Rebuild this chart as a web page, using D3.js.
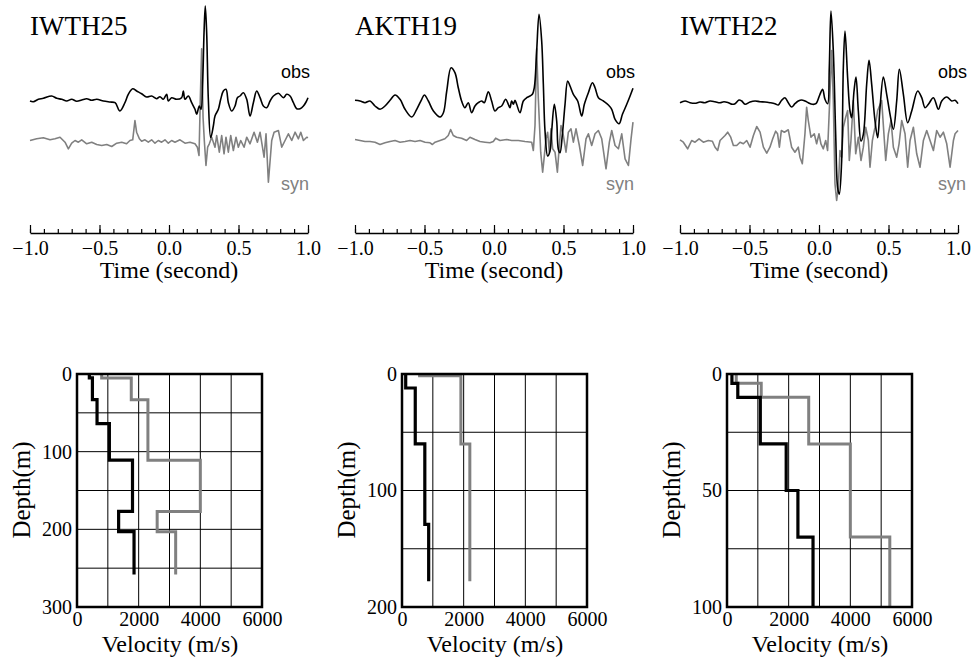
<!DOCTYPE html>
<html>
<head>
<meta charset="utf-8">
<script src="https://cdn.jsdelivr.net/npm/d3@7"></script>
<style>
  body { margin: 0; background: #fff; }
  svg { display: block; background: #fff; }
</style>
</head>
<body>
<svg id="chart"></svg>
<script>
const width = 972;
const height = 658;

/* ---------------------------
Data
--------------------------- */

const stations = ["IWTH25", "AKTH19", "IWTH22"];
const timeMajorTicks = [-1.0, -0.5, 0.0, 0.5, 1.0];
const timeMinorTicks = d3.range(-10, 11).map(i => i / 10);

// waveforms: [time (s), normalized amplitude]
const obsIWTH25 = [
  [-1.000, 0], [-0.976, -0.007], [-0.940, 0.017], [-0.904, 0.027], [-0.844, 0.05],
  [-0.808, 0.027], [-0.772, 0.017], [-0.736, 0], [-0.700, 0.017], [-0.664, -0.003],
  [-0.628, 0.01], [-0.592, 0.023], [-0.556, 0.007], [-0.520, 0.017], [-0.472, 0],
  [-0.424, -0.01], [-0.388, -0.017], [-0.353, -0.1], [-0.317, -0.017], [-0.293, 0.067],
  [-0.261, 0.123], [-0.233, 0.1], [-0.197, 0.073], [-0.161, 0.04], [-0.125, 0.05],
  [-0.089, 0.023], [-0.065, 0.043], [-0.041, 0.017], [-0.017, 0.067], [-0.005, 0],
  [0.019, 0.033], [0.055, 0.017], [0.091, 0.033], [0.103, 0.1], [0.115, 0.017],
  [0.139, 0.05], [0.163, -0.017], [0.187, -0.083], [0.199, -0.133], [0.218, -0.05],
  [0.230, -0.083], [0.242, 0.183], [0.252, 0.683], [0.261, 0.95], [0.271, 0.683],
  [0.283, 0.017], [0.300, -0.367], [0.319, -0.25], [0.331, -0.15], [0.355, -0.083],
  [0.372, 0.017], [0.391, 0.1], [0.410, 0.117], [0.427, -0.017], [0.451, -0.1],
  [0.475, -0.05], [0.492, 0.033], [0.511, 0.05], [0.535, 0.083], [0.559, 0.017],
  [0.583, -0.15], [0.607, -0.017], [0.631, 0.1], [0.655, 0.033], [0.679, -0.05],
  [0.703, -0.067], [0.727, 0], [0.751, 0.05], [0.787, 0.077], [0.823, 0.033],
  [0.847, 0.067], [0.871, 0.05], [0.895, -0.017], [0.919, -0.077], [0.943, -0.077],
  [0.967, -0.05], [0.986, -0.01], [1.000, 0.033]
];

const synIWTH25 = [
  [-1.000, 0], [-0.952, 0.017], [-0.904, 0.027], [-0.856, 0.007], [-0.820, 0.017],
  [-0.784, 0.033], [-0.748, -0.017], [-0.724, -0.083], [-0.700, -0.027], [-0.676, 0],
  [-0.652, -0.017], [-0.628, 0.007], [-0.592, -0.033], [-0.556, -0.017], [-0.520, -0.04],
  [-0.484, -0.05], [-0.448, -0.04], [-0.412, -0.06], [-0.376, -0.027], [-0.340, -0.017],
  [-0.305, -0.033], [-0.281, 0], [-0.261, 0.007], [-0.245, 0.2], [-0.233, 0.083],
  [-0.213, 0.017], [-0.197, -0.007], [-0.173, 0.007], [-0.149, -0.017], [-0.125, 0.007],
  [-0.101, -0.027], [-0.077, 0], [-0.053, -0.017], [-0.029, 0.007], [-0.005, -0.027],
  [0.019, 0], [0.043, -0.017], [0.079, 0.007], [0.115, -0.027], [0.151, -0.017],
  [0.187, -0.033], [0.204, -0.067], [0.216, -0.15], [0.225, 0.4], [0.235, 0.917],
  [0.245, 0.233], [0.254, 0], [0.266, -0.25], [0.278, -0.067], [0.290, -0.033],
  [0.307, 0.033], [0.331, -0.067], [0.343, 0.05], [0.362, -0.117], [0.379, 0.05],
  [0.396, -0.133], [0.410, 0.033], [0.427, -0.117], [0.444, 0.05], [0.463, -0.1],
  [0.482, 0.033], [0.499, -0.067], [0.516, 0], [0.540, -0.067], [0.559, 0.033],
  [0.583, -0.033], [0.612, 0.083], [0.636, -0.017], [0.655, 0.083], [0.684, -0.167],
  [0.698, 0.067], [0.715, -0.417], [0.739, 0], [0.756, 0.083], [0.787, 0.1],
  [0.811, -0.067], [0.835, 0], [0.859, 0.067], [0.883, 0], [0.907, 0.083],
  [0.931, 0.017], [0.948, 0.083], [0.967, 0], [0.991, 0.033], [1.000, 0.027]
];

const obsAKTH19 = [
  [-1.000, 0.007], [-0.964, 0], [-0.928, -0.017], [-0.892, 0], [-0.856, -0.05],
  [-0.820, -0.083], [-0.784, -0.05], [-0.748, 0.007], [-0.712, 0.06], [-0.676, 0.017],
  [-0.640, -0.083], [-0.592, -0.16], [-0.556, -0.083], [-0.520, 0.017], [-0.501, 0.06],
  [-0.472, 0], [-0.436, -0.1], [-0.388, -0.16], [-0.364, -0.117], [-0.340, 0.1],
  [-0.309, 0.333], [-0.281, 0.283], [-0.257, 0.133], [-0.233, 0], [-0.209, -0.067],
  [-0.185, -0.017], [-0.161, -0.117], [-0.137, -0.05], [-0.113, -0.017], [-0.089, 0],
  [-0.070, -0.017], [-0.041, 0.093], [-0.017, 0], [0.007, -0.1], [0.031, -0.067],
  [0.055, -0.05], [0.084, 0.017], [0.103, -0.033], [0.115, -0.067], [0.127, 0],
  [0.139, -0.033], [0.151, 0.007], [0.163, -0.033], [0.187, -0.117], [0.211, 0],
  [0.235, 0.033], [0.259, 0.05], [0.276, 0.067], [0.290, 0.133], [0.307, 0.5],
  [0.324, 0.867], [0.343, 0.6], [0.355, 0.167], [0.367, -0.3], [0.386, -0.55],
  [0.403, -0.5], [0.415, -0.3], [0.434, -0.033], [0.451, -0.2], [0.463, -0.483],
  [0.475, -0.517], [0.492, -0.333], [0.511, -0.033], [0.530, 0.2], [0.547, 0.15],
  [0.571, 0.067], [0.602, 0], [0.631, -0.15], [0.650, -0.033], [0.679, 0.083],
  [0.708, 0.183], [0.727, 0.133], [0.751, 0.033], [0.787, 0], [0.823, -0.04],
  [0.847, -0.083], [0.871, -0.183], [0.900, -0.227], [0.924, -0.133], [0.955, -0.033],
  [0.979, 0.05], [1.000, 0.127]
];

const synAKTH19 = [
  [-1.000, 0.01], [-0.964, 0], [-0.928, -0.01], [-0.892, -0.01], [-0.856, -0.017],
  [-0.820, -0.04], [-0.784, -0.023], [-0.748, -0.01], [-0.712, 0], [-0.676, -0.017],
  [-0.640, -0.01], [-0.604, 0], [-0.568, -0.01], [-0.532, 0], [-0.496, -0.017],
  [-0.460, -0.023], [-0.443, -0.04], [-0.424, -0.017], [-0.388, 0], [-0.353, 0.017],
  [-0.329, 0.05], [-0.312, 0.11], [-0.293, 0.05], [-0.269, 0.033], [-0.233, 0.023],
  [-0.197, 0], [-0.173, 0.033], [-0.137, 0.01], [-0.101, -0.01], [-0.065, -0.017],
  [-0.029, -0.023], [-0.005, -0.01], [0.012, 0.023], [0.043, 0], [0.091, 0.01],
  [0.127, 0], [0.175, 0], [0.223, -0.01], [0.271, -0.017], [0.283, -0.1],
  [0.295, 0.15], [0.307, 0.917], [0.319, 0.417], [0.336, -0.117], [0.350, -0.317],
  [0.360, -0.183], [0.374, 0.017], [0.386, 0.083], [0.398, -0.117], [0.410, 0.117],
  [0.422, -0.083], [0.439, -0.117], [0.456, -0.317], [0.470, -0.05], [0.482, 0.15],
  [0.499, 0.05], [0.518, -0.117], [0.535, 0.083], [0.554, 0.117], [0.571, -0.017],
  [0.590, 0.117], [0.614, -0.05], [0.638, -0.25], [0.662, 0.017], [0.679, 0.067],
  [0.703, -0.05], [0.727, 0.067], [0.751, 0.1], [0.775, 0.017], [0.806, -0.283],
  [0.830, -0.017], [0.847, 0.1], [0.871, -0.05], [0.895, -0.083], [0.919, 0.067],
  [0.943, -0.183], [0.967, -0.25], [0.986, 0.017], [1.000, 0.183]
];

const obsIWTH22 = [
  [-1.000, -0.017], [-0.964, 0], [-0.928, -0.017], [-0.892, -0.023], [-0.856, -0.01],
  [-0.820, -0.017], [-0.784, 0], [-0.748, -0.007], [-0.712, -0.017], [-0.684, -0.007],
  [-0.652, -0.017], [-0.624, -0.033], [-0.604, -0.027], [-0.576, 0.01], [-0.556, 0],
  [-0.532, -0.033], [-0.496, -0.01], [-0.460, 0], [-0.424, -0.007], [-0.388, -0.01],
  [-0.353, -0.017], [-0.317, -0.027], [-0.293, -0.04], [-0.269, 0.007], [-0.245, 0.033],
  [-0.221, -0.017], [-0.197, -0.06], [-0.173, -0.027], [-0.149, 0], [-0.125, 0.01],
  [-0.101, 0], [-0.077, -0.017], [-0.048, -0.033], [-0.022, -0.027], [0.007, 0.067],
  [0.026, 0.117], [0.043, 0.017], [0.062, -0.027], [0.074, 0.333], [0.086, 0.9],
  [0.103, 0.5], [0.120, -0.333], [0.134, -0.867], [0.146, -0.933], [0.163, -0.6],
  [0.175, 0.333], [0.187, 0.7], [0.206, 0.233], [0.223, -0.1], [0.235, -0.167],
  [0.252, 0.1], [0.266, 0.24], [0.283, -0.1], [0.302, -0.4], [0.319, -0.333],
  [0.343, 0.167], [0.360, 0.407], [0.379, 0.167], [0.403, -0.2], [0.422, -0.367],
  [0.439, -0.067], [0.463, 0.24], [0.487, 0.067], [0.511, -0.133], [0.535, -0.283],
  [0.559, 0], [0.578, 0.317], [0.607, 0.067], [0.638, -0.217], [0.667, -0.1],
  [0.710, 0.1], [0.739, 0.033], [0.763, -0.067], [0.787, -0.033], [0.823, 0.033],
  [0.859, -0.083], [0.883, 0], [0.919, 0.04], [0.955, 0], [0.979, 0.007], [1.000, -0.027]
];

const synIWTH22 = [
  [-1.000, 0.007], [-0.976, -0.017], [-0.945, -0.083], [-0.916, 0], [-0.892, -0.017],
  [-0.863, 0.017], [-0.832, -0.017], [-0.796, 0], [-0.767, -0.007], [-0.748, -0.067],
  [-0.729, -0.1], [-0.712, 0], [-0.676, 0.05], [-0.657, 0.083], [-0.635, 0.033],
  [-0.616, -0.05], [-0.592, -0.05], [-0.568, -0.017], [-0.544, -0.033], [-0.520, 0],
  [-0.496, -0.067], [-0.472, 0.05], [-0.448, 0.14], [-0.424, 0.083], [-0.400, -0.067],
  [-0.376, -0.127], [-0.353, -0.067], [-0.333, 0.017], [-0.312, 0.093], [-0.298, 0.067],
  [-0.285, -0.067], [-0.271, 0.1], [-0.249, 0.083], [-0.221, 0.107], [-0.197, -0.067],
  [-0.173, -0.117], [-0.149, -0.067], [-0.137, -0.167], [-0.120, -0.233], [-0.101, 0.067],
  [-0.089, 0.333], [-0.077, 0.2], [-0.058, 0.033], [-0.034, 0.067], [-0.017, -0.033],
  [0.000, 0.067], [0.014, -0.033], [0.031, -0.083], [0.048, 0], [0.062, -0.1],
  [0.077, 0.4], [0.091, 0.9], [0.103, 0.4], [0.115, -0.433], [0.127, -0.6],
  [0.139, -0.467], [0.151, -0.1], [0.163, -0.167], [0.175, 0.133], [0.192, 0.233],
  [0.206, 0.3], [0.218, -0.2], [0.230, 0], [0.247, 0.4], [0.264, -0.133],
  [0.283, 0.033], [0.302, -0.2], [0.319, -0.067], [0.336, 0.133], [0.355, 0],
  [0.367, -0.267], [0.384, 0], [0.403, 0.133], [0.422, 0.3], [0.451, 0.4],
  [0.480, -0.2], [0.499, 0.067], [0.518, 0.2], [0.535, -0.067], [0.559, -0.167],
  [0.576, -0.033], [0.595, 0.2], [0.619, 0.067], [0.638, -0.267], [0.655, 0],
  [0.679, 0.133], [0.703, -0.133], [0.727, -0.267], [0.751, 0], [0.775, 0.1],
  [0.799, 0], [0.823, -0.1], [0.847, 0.1], [0.871, 0.033], [0.895, 0.083],
  [0.919, -0.033], [0.943, -0.267], [0.967, 0], [0.979, 0.067], [1.000, 0.1]
];

const obsTraces = [obsIWTH25, obsAKTH19, obsIWTH22];
const synTraces = [synIWTH25, synAKTH19, synIWTH22];

// velocity profiles: layer boundaries (m) and velocities (m/s)
const depthIWTH25 = [0, 5, 33, 64, 111, 177, 203, 258];
const vsIWTH25 = [400, 500, 650, 1050, 1800, 1350, 1850];
const vpIWTH25 = [800, 1760, 2300, 2300, 4000, 2600, 3200];

const depthAKTH19 = [0, 1.5, 12, 60, 129, 178];
const vsAKTH19 = [120, 120, 430, 740, 865];
const vpAKTH19 = [570, 1910, 1910, 2200, 2200];

const depthIWTH22 = [0, 4, 10, 30, 50, 70, 100];
const vsIWTH22 = [160, 350, 1080, 1920, 2300, 2790];
const vpIWTH22 = [300, 1110, 2650, 4000, 4000, 5280];

const profileDepths = [depthIWTH25, depthAKTH19, depthIWTH22];
const profileVs = [vsIWTH25, vsAKTH19, vsIWTH22];
const profileVp = [vpIWTH25, vpAKTH19, vpIWTH22];

const depthMax = [300, 200, 100];
const depthTicks = [[0, 100, 200, 300], [0, 100, 200], [0, 50, 100]];
const depthGridStep = [50, 50, 25];
const velocityTicks = [0, 2000, 4000, 6000];
const velocityGrid = [1000, 2000, 3000, 4000, 5000];

/* ---------------------------
Setup
--------------------------- */

const serif = "'Liberation Serif', 'Times New Roman', serif";
const sans = "'Liberation Sans', Arial, sans-serif";
const gray = "#808080";

const svg = d3.select("#chart")
  .attr("width", width)
  .attr("height", height);

const panelX = [0, 325, 650];
const labelShift = [0, 0, 7];

/* ---------------------------
Waveform panels
--------------------------- */

stations.forEach((name, i) => {
  const px = panelX[i];
  const g = svg.append("g");

  const x = d3.scaleLinear().domain([-1, 1]).range([px + 30, px + 308]);
  const yObs = d3.scaleLinear().domain([-1, 1]).range([201, 1]);
  const ySyn = d3.scaleLinear().domain([-1, 1]).range([240.5, 40.5]);

  g.append("path")
    .datum(synTraces[i])
    .attr("fill", "none")
    .attr("stroke", gray)
    .attr("stroke-width", 1.6)
    .attr("stroke-linejoin", "round")
    .attr("d", d3.line().x(d => x(d[0])).y(d => ySyn(d[1])));

  g.append("path")
    .datum(obsTraces[i])
    .attr("fill", "none")
    .attr("stroke", "#000")
    .attr("stroke-width", 1.6)
    .attr("stroke-linejoin", "round")
    .attr("d", d3.line().curve(d3.curveCatmullRom.alpha(0.5)).x(d => x(d[0])).y(d => yObs(d[1])));

  g.append("text")
    .attr("x", px + 30)
    .attr("y", 35)
    .attr("font-family", serif)
    .attr("font-size", 27)
    .text(name);

  g.append("text")
    .attr("x", px + 310 + labelShift[i])
    .attr("y", 78)
    .attr("text-anchor", "end")
    .attr("font-family", sans)
    .attr("font-size", 18)
    .text("obs");

  g.append("text")
    .attr("x", px + 309 + labelShift[i])
    .attr("y", 190)
    .attr("text-anchor", "end")
    .attr("font-family", sans)
    .attr("font-size", 18)
    .attr("fill", gray)
    .text("syn");

  // minor ticks
  const minor = g.append("g")
    .attr("transform", "translate(0,233)")
    .call(d3.axisBottom(x).tickValues(timeMinorTicks).tickSize(-4).tickSizeOuter(0).tickFormat(""));
  minor.select(".domain").attr("stroke-width", 1.5);
  minor.selectAll(".tick line").attr("stroke-width", 1.2);

  // major ticks
  const major = g.append("g")
    .attr("transform", "translate(0,233)")
    .call(d3.axisBottom(x).tickValues(timeMajorTicks).tickSize(-8).tickSizeOuter(0)
      .tickPadding(8).tickFormat(d3.format(".1f")));
  major.select(".domain").remove();
  major.selectAll(".tick line").attr("stroke-width", 1.2);
  major.selectAll("text")
    .attr("font-family", serif)
    .attr("font-size", 20)
    .attr("fill", "#000");

  g.append("text")
    .attr("x", px + 169)
    .attr("y", 278)
    .attr("text-anchor", "middle")
    .attr("font-family", serif)
    .attr("font-size", 24)
    .text("Time (second)");
});

/* ---------------------------
Velocity profile panels
--------------------------- */

function stepPoints(depths, vels) {
  const pts = [];
  vels.forEach((v, k) => {
    pts.push([v, depths[k]]);
    pts.push([v, depths[k + 1]]);
  });
  return pts;
}

stations.forEach((name, i) => {
  const px = panelX[i];
  const g = svg.append("g");

  const xv = d3.scaleLinear().domain([0, 6000]).range([px + 77, px + 262]);
  const yd = d3.scaleLinear().domain([0, depthMax[i]]).range([374, 607]);

  // grid
  g.selectAll(".vgrid")
    .data(velocityGrid)
    .enter()
    .append("line")
    .attr("x1", d => xv(d))
    .attr("x2", d => xv(d))
    .attr("y1", yd(0))
    .attr("y2", yd(depthMax[i]))
    .attr("stroke", "#000")
    .attr("stroke-width", 1);

  const hgrid = d3.range(depthGridStep[i], depthMax[i], depthGridStep[i]);
  g.selectAll(".hgrid")
    .data(hgrid)
    .enter()
    .append("line")
    .attr("x1", xv(0))
    .attr("x2", xv(6000))
    .attr("y1", d => yd(d))
    .attr("y2", d => yd(d))
    .attr("stroke", "#000")
    .attr("stroke-width", 1);

  const line = d3.line().x(d => xv(d[0])).y(d => yd(d[1]));

  g.append("path")
    .datum(stepPoints(profileDepths[i], profileVp[i]))
    .attr("fill", "none")
    .attr("stroke", gray)
    .attr("stroke-width", 3)
    .attr("d", line);

  g.append("path")
    .datum(stepPoints(profileDepths[i], profileVs[i]))
    .attr("fill", "none")
    .attr("stroke", "#000")
    .attr("stroke-width", 3.2)
    .attr("d", line);

  g.append("rect")
    .attr("x", xv(0))
    .attr("y", yd(0))
    .attr("width", xv(6000) - xv(0))
    .attr("height", yd(depthMax[i]) - yd(0))
    .attr("fill", "none")
    .attr("stroke", "#000")
    .attr("stroke-width", 2.5);

  const ya = g.append("g")
    .attr("transform", `translate(${px + 77},0)`)
    .call(d3.axisLeft(yd).tickValues(depthTicks[i]).tickSize(0).tickPadding(5));
  ya.select(".domain").remove();
  ya.selectAll("text").attr("font-family", serif).attr("font-size", 20).attr("fill", "#000");

  const xa = g.append("g")
    .attr("transform", "translate(0,606)")
    .call(d3.axisBottom(xv).tickValues(velocityTicks).tickSize(0).tickPadding(6)
      .tickFormat(d3.format("d")));
  xa.select(".domain").remove();
  xa.selectAll("text").attr("font-family", serif).attr("font-size", 20).attr("fill", "#000");

  g.append("text")
    .attr("x", px + 170)
    .attr("y", 652)
    .attr("text-anchor", "middle")
    .attr("font-family", serif)
    .attr("font-size", 24)
    .text("Velocity (m/s)");

  g.append("text")
    .attr("transform", `translate(${px + 30},490) rotate(-90)`)
    .attr("text-anchor", "middle")
    .attr("font-family", serif)
    .attr("font-size", 25)
    .text("Depth(m)");
});
</script>
</body>
</html>
